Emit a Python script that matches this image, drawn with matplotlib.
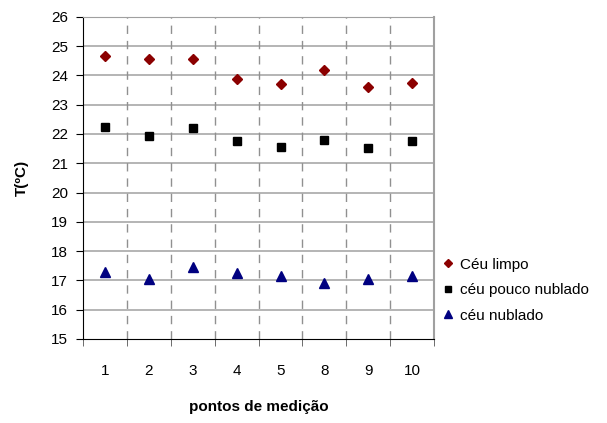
import matplotlib
matplotlib.use("Agg")
import matplotlib.pyplot as plt
import numpy as np

plt.rcParams['font.family'] = ['Liberation Sans', 'DejaVu Sans']

pontos = ["1", "2", "3", "4", "5", "8", "9", "10"]
ceu_limpo = [24.65, 24.55, 24.55, 23.88, 23.70, 24.20, 23.60, 23.75]
ceu_pouco_nublado = [22.25, 21.93, 22.20, 21.75, 21.57, 21.80, 21.52, 21.75]
ceu_nublado = [17.30, 17.03, 17.45, 17.25, 17.16, 16.90, 17.03, 17.16]
yticks = list(range(15, 27))

fig = plt.figure(figsize=(6.07, 4.23), dpi=100)
ax = fig.add_axes([0.137, 0.199, 0.578, 0.761])

x = np.arange(len(pontos))
ax.plot(x, ceu_limpo, linestyle='none', marker='D', markersize=5.5, color='#8B0000', label='Céu limpo')
ax.plot(x, ceu_pouco_nublado, linestyle='none', marker='s', markersize=6, color='black', label='céu pouco nublado')
ax.plot(x, ceu_nublado, linestyle='none', marker='^', markersize=7, color='#000080', label='céu nublado')

ax.set_xlim(-0.5, len(pontos) - 0.5)
ax.set_ylim(15, 26)
ax.set_yticks(yticks)
ax.set_yticklabels([str(v) for v in yticks], fontsize=11)
ax.set_xticks(x)
ax.set_xticklabels(pontos, fontsize=11)
ax.tick_params(axis='x', which='major', length=0, pad=18)
ax.set_xticks(np.arange(-0.5, len(pontos), 1.0), minor=True)
ax.tick_params(axis='x', which='minor', length=5, direction='out', color='#555555')
ax.tick_params(axis='y', length=5, direction='out', pad=6)

for yv in yticks[1:]:
    ax.axhline(yv, color='#a0a0a0', linewidth=1.1, zorder=0)
for xv in np.arange(0.5, len(pontos) - 0.5, 1.0):
    ax.axvline(xv, color='#909090', linewidth=1.0, linestyle=(0, (6, 5)), zorder=0)

ax.spines['top'].set_color('#a0a0a0')
ax.spines['right'].set_color('#a0a0a0')
ax.spines['right'].set_linewidth(1.5)
ax.spines['left'].set_color('black')
ax.spines['bottom'].set_color('black')

ax.set_ylabel('T(ºC)', fontsize=11, fontweight='bold', labelpad=16)
ax.set_xlabel('pontos de medição', fontsize=11, fontweight='bold', labelpad=16)

fig.legend(loc='upper left', bbox_to_anchor=(0.72, 0.405), frameon=False, fontsize=11,
           handlelength=0.7, handletextpad=0.4, labelspacing=0.75, borderaxespad=0,
           markerscale=0.8)

fig.savefig('out.png', dpi=100)
